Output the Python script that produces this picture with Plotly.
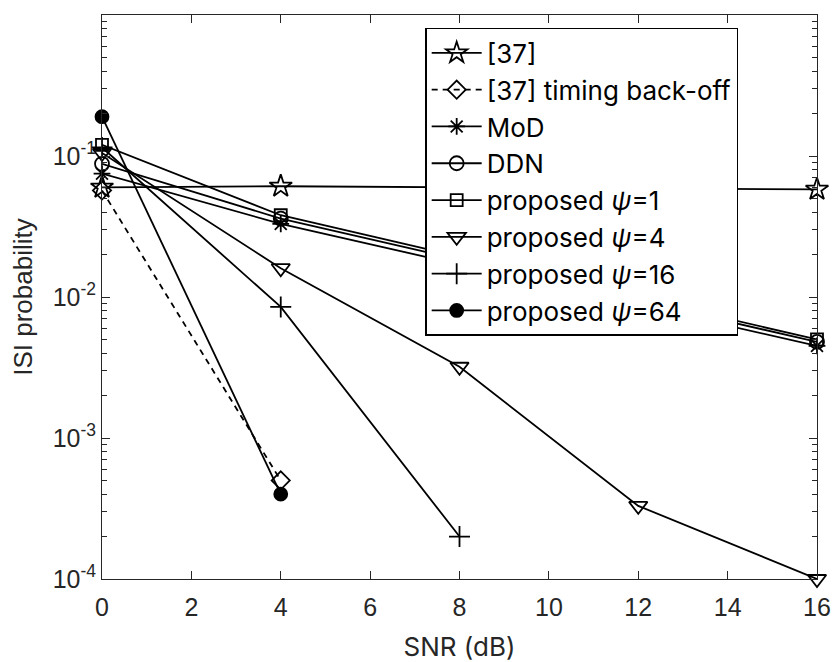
import plotly.graph_objects as go

# SNR values (dB) at which each scheme was evaluated
ref37_x = [0, 4, 16]
ref37_y = [0.060, 0.061, 0.058]

ref37_tb_x = [0, 4]
ref37_tb_y = [0.057, 5.0e-4]

mod_x = [0, 4, 16]
mod_y = [0.075, 0.033, 0.0045]

ddn_x = [0, 4, 16]
ddn_y = [0.088, 0.036, 0.0048]

psi1_x = [0, 4, 16]
psi1_y = [0.12, 0.038, 0.0050]

psi4_x = [0, 4, 8, 12, 16]
psi4_y = [0.105, 0.016, 0.0032, 3.3e-4, 1.0e-4]

psi16_x = [0, 4, 8]
psi16_y = [0.115, 0.0085, 2.0e-4]

psi64_x = [0, 4]
psi64_y = [0.19, 4.0e-4]

x_ticks = [0, 2, 4, 6, 8, 10, 12, 14, 16]
y_ticks = [1e-4, 1e-3, 1e-2, 1e-1, 1]
y_ticktext = ["10<sup>-4</sup>", "10<sup>-3</sup>", "10<sup>-2</sup>",
              "10<sup>-1</sup>", "10<sup>0</sup>"]

FONT = "Liberation Sans, Arial, Helvetica, sans-serif"
WIDE_FONT = "Inter, Liberation Sans, Arial, sans-serif"
AX = "#262626"
LW = 1.8

series = [
    ("[37]", ref37_x, ref37_y, "star-open", 17, "solid"),
    ("[37] timing back-off", ref37_tb_x, ref37_tb_y, "diamond-open", 14, "6px,5px"),
    ("MoD", mod_x, mod_y, "asterisk-open", 14, "solid"),
    ("DDN", ddn_x, ddn_y, "circle-open", 14, "solid"),
    ("proposed <i>ψ</i>=1", psi1_x, psi1_y, "square-open", 12, "solid"),
    ("proposed <i>ψ</i>=4", psi4_x, psi4_y, "triangle-down-open", 16, "solid"),
    ("proposed <i>ψ</i>=16", psi16_x, psi16_y, "cross-thin-open", 15, "solid"),
    ("proposed <i>ψ</i>=64", psi64_x, psi64_y, "circle", 13, "solid"),
]

fig = go.Figure()
for name, xs, ys, sym, size, dash in series:
    fig.add_trace(go.Scatter(
        x=xs, y=ys, name=name, mode="lines+markers",
        line=dict(color="black", width=LW, dash=dash),
        marker=dict(symbol=sym, size=size, color="black",
                    line=dict(color="black", width=1.8)),
        cliponaxis=False,
    ))

minor_vals = [m * 10 ** e for e in range(-4, 0) for m in range(2, 10)]

fig.update_layout(
    width=833, height=662,
    margin=dict(l=102, r=16, t=15, b=83),
    paper_bgcolor="white", plot_bgcolor="white",
    font=dict(family=FONT, size=25, color=AX),
    showlegend=True,
    legend=dict(
        x=0.452, y=0.977, xanchor="left", yanchor="top",
        bgcolor="white", bordercolor="black", borderwidth=1.5,
        font=dict(family=WIDE_FONT, size=26, color="black"),
        itemwidth=50, tracegroupgap=0,
    ),
    xaxis=dict(
        range=[0, 16], tickvals=x_ticks, ticktext=[str(v) for v in x_ticks],
        ticks="inside", ticklen=8, tickcolor=AX, tickwidth=1,
        ticklabelstandoff=6, automargin=False,
        showline=True, linecolor=AX, linewidth=1, mirror="ticks",
        showgrid=False, zeroline=False,
        title=dict(text="SNR (dB)", font=dict(family=WIDE_FONT, size=26, color=AX),
                   standoff=20),
    ),
    yaxis=dict(
        type="log", range=[-4, 0], tickvals=y_ticks, ticktext=y_ticktext,
        ticks="inside", ticklen=8, tickcolor=AX, tickwidth=1,
        automargin=False,
        minor=dict(tickvals=minor_vals, ticks="inside", ticklen=5,
                   tickcolor=AX, tickwidth=1, showgrid=False),
        showline=True, linecolor=AX, linewidth=1, mirror="ticks",
        showgrid=False, zeroline=False,
        title=dict(text="ISI probability", font=dict(size=26, color=AX), standoff=12),
    ),
)

fig.write_html("out.html")
